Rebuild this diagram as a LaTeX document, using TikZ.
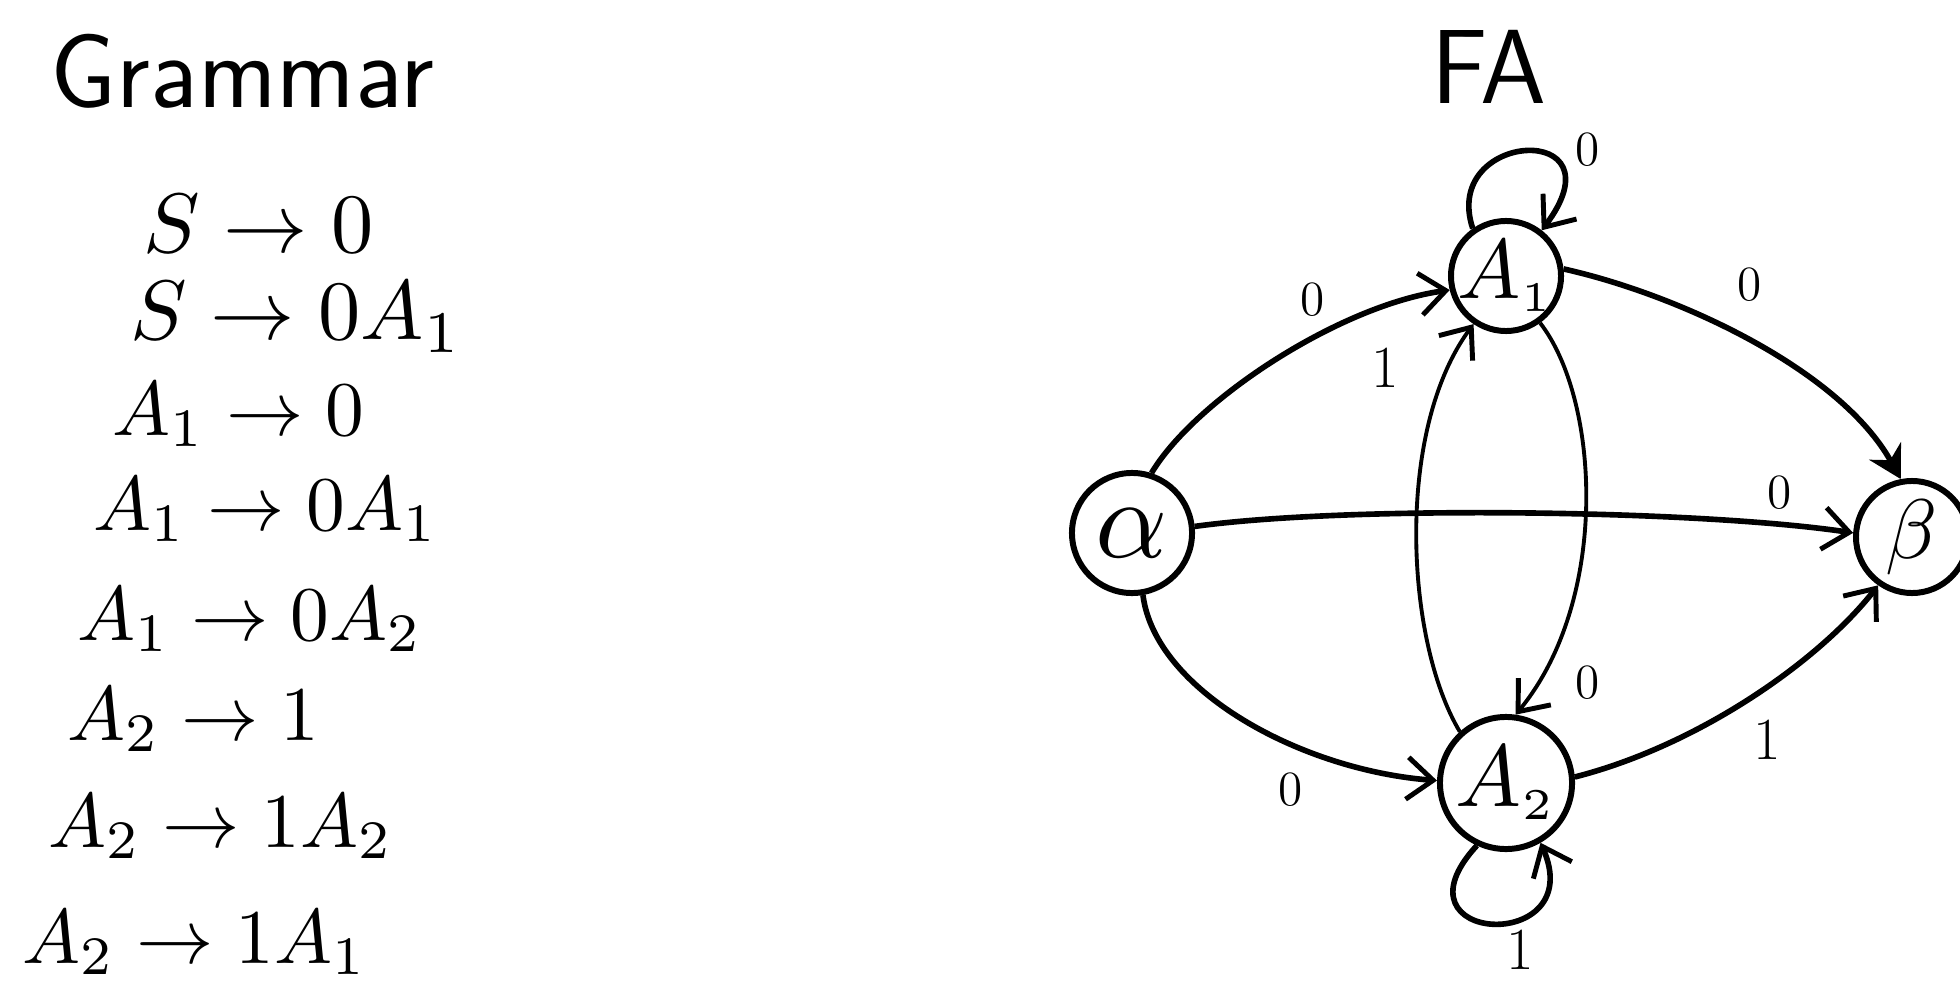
\documentclass[tikz,border=0pt]{standalone}
\usepackage{graphicx}
\usetikzlibrary{arrows.meta}
\begin{document}
\begin{tikzpicture}[x=0.01cm,y=-0.01cm,
  state/.style={draw, circle, line width=1.7pt, inner sep=0pt},
  edge/.style={line width=1.6pt, -{Straight Barb[length=2.6mm,width=4.2mm,line width=1.4pt]}},
  inneredge/.style={edge, line width=1.1pt},
  bigtip/.style={line width=1.6pt, -{Stealth[length=3.2mm,width=3.6mm]}},
  zero/.style={inner sep=0pt, font=\fontsize{14}{16}\selectfont},
  one/.style={inner sep=0pt, font=\fontsize{17}{20}\selectfont},
  prod/.style={anchor=base west, inner sep=0pt},
  titletext/.style={inner sep=0pt, font=\fontsize{30}{36}\selectfont\sffamily}
]
\useasboundingbox (0,0) rectangle (1960,991);

% ---------- Grammar ----------
\node[titletext, anchor=base west] (gram) at (50,108) {Grammar};
\node[prod] (p1) at (143,253) {\scalebox{2.4}{$S \rightarrow 0$}};
\node[prod] (p2) at (130,340) {\scalebox{2.4}{$S \rightarrow 0A_1$}};
\node[prod] (p3) at (112,435) {\scalebox{2.2}{$A_1 \rightarrow 0$}};
\node[prod] (p4) at (93,530) {\scalebox{2.2}{$A_1 \rightarrow 0A_1$}};
\node[prod] (p5) at (77,640) {\scalebox{2.2}{$A_1 \rightarrow 0A_2$}};
\node[prod] (p6) at (67,740) {\scalebox{2.2}{$A_2 \rightarrow 1$}};
\node[prod] (p7) at (48,847) {\scalebox{2.2}{$A_2 \rightarrow 1A_2$}};
\node[prod] (p8) at (22,963) {\scalebox{2.2}{$A_2 \rightarrow 1A_1$}};

% ---------- FA ----------
\node[titletext, anchor=base] (fa) at (1489,104) {FA};

\node[state, minimum size=1.2cm,
  label={[inner sep=0pt]center:\scalebox{3.2}{$\alpha$}}] (al) at (1132,533) {};
\node[state, minimum size=1.1cm,
  label={[inner sep=0pt]center:\scalebox{2.4}{$A_{\scriptscriptstyle 1}$}}] (A1) at (1506,276) {};
\node[state, minimum size=1.32cm,
  label={[inner sep=0pt]center:\scalebox{2.5}{$A_{\scriptscriptstyle 2}$}}] (A2) at (1506,783) {};
\node[state, minimum size=1.12cm,
  label={[inner sep=0pt]center:\scalebox{2.4}{$\beta$}}] (B) at (1912,537) {};

% edges
\draw[edge] (al.72) .. controls (1195,400) and (1340,305) .. (A1.194);
\draw[inneredge] (A2.132) .. controls (1405,640) and (1395,430) .. (A1.236);
\draw[inneredge] (A1.306) .. controls (1600,400) and (1610,600) .. (A2.82);
\draw[bigtip] (A1.7) .. controls (1680,295) and (1840,370) .. (B.101);
\draw[edge] (al.6) .. controls (1350,505) and (1700,510) .. (B.176);
\draw[edge] (al.280) .. controls (1155,690) and (1300,770) .. (A2.178);
\draw[edge] (A2.5) .. controls (1700,745) and (1820,660) .. (B.235);
\draw[edge] (A1.125) .. controls (1440,130) and (1625,120) .. (A1.52);
\draw[edge] (A2.245) .. controls (1385,945) and (1590,955) .. (A2.300);

% labels
\node[zero] (l1) at (1313,300) {0};
\node[one]  (l2) at (1385,368) {1};
\node[zero] (l3) at (1588,150) {0};
\node[zero] (l4) at (1750,285) {0};
\node[zero] (l5) at (1780,493) {0};
\node[zero] (l6) at (1588,683) {0};
\node[zero] (l7) at (1291,790) {0};
\node[one]  (l8) at (1767,740) {1};
\node[one]  (l9) at (1520,950) {1};
\end{tikzpicture}
\end{document}
